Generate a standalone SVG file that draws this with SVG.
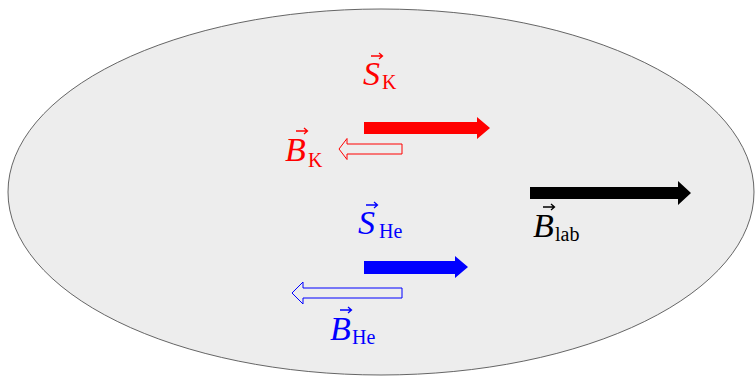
<svg xmlns="http://www.w3.org/2000/svg" width="755" height="376" viewBox="0 0 755 376">
<style>
.v{font-family:"Liberation Serif",serif;font-style:italic;font-size:34px}
.s{font-family:"Liberation Serif",serif;font-style:normal;font-size:20px}
.red{fill:#ff0000}
.blue{fill:#0000ff}
.blk{fill:#000000}
.va{fill:none;stroke-width:1.3}
</style>
<rect width="755" height="376" fill="#ffffff"/>
<g id="region">
<ellipse cx="381" cy="192" rx="373" ry="183" fill="#ededed" stroke="#555555" stroke-width="0.9"/>
</g>
<g id="connectors">
<path id="SK-arrow" d="M364,122 H477 V117 L490,128 L477,139 V134 H364 Z" fill="#ff0000"/>
<path id="BK-arrow" d="M402,144 H347 V138.5 L339,149 L347,159.5 V154 H402 Z" fill="none" stroke="#ff0000" stroke-width="1"/>
<path id="SHe-arrow" d="M364,261 H455 V256 L468,267 L455,278 V274 H364 Z" fill="#0000ff"/>
<path id="BHe-arrow" d="M402,288 H303 V282 L292,293 L303,304 V298 H402 Z" fill="none" stroke="#0000ff" stroke-width="1"/>
<path id="Blab-arrow" d="M530,187 H678 V181 L691,193 L678,205 V199 H530 Z" fill="#000000"/>
</g>
<g id="label-SK">
<text class="v red" x="363" y="85">S<tspan class="s" x="382" y="89">K</tspan></text>
<path class="va" stroke="#ff0000" d="M371,56 H382 M379,53 L382.5,56 L379,59"/>
</g>
<g id="label-BK">
<text class="v red" x="285" y="161">B<tspan class="s" x="308" y="167">K</tspan></text>
<path class="va" stroke="#ff0000" d="M296,131 H307 M304,128 L307.5,131 L304,134"/>
</g>
<g id="label-SHe">
<text class="v blue" x="358" y="234">S<tspan class="s" x="379" y="238">He</tspan></text>
<path class="va" stroke="#0000ff" d="M366,205 H377 M374,202 L377.5,205 L374,208"/>
</g>
<g id="label-BHe">
<text class="v blue" x="330" y="340">B<tspan class="s" x="352" y="344">He</tspan></text>
<path class="va" stroke="#0000ff" d="M340,310 H351 M348,307 L351.5,310 L348,313"/>
</g>
<g id="label-Blab">
<text class="v blk" x="533" y="237">B<tspan class="s" x="555" y="241">lab</tspan></text>
<path class="va" stroke="#000000" d="M543,207 H554 M551,204 L554.5,207 L551,210"/>
</g>
</svg>
